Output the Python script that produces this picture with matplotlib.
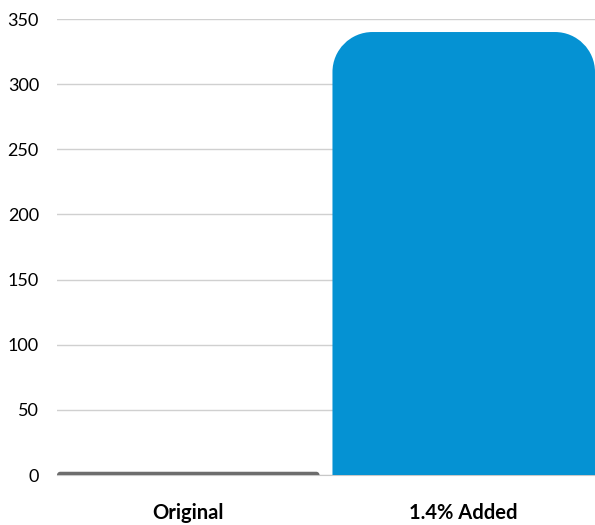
import numpy as np
import matplotlib.pyplot as plt
from matplotlib.path import Path
from matplotlib.patches import PathPatch

categories = ['Original', '1.4% Added']
values = [2.5, 340]
colors = ['#6d6d6d', '#0592d3']
yticks = [0, 50, 100, 150, 200, 250, 300, 350]

plt.rcParams['font.family'] = ['Lato', 'DejaVu Sans']

fig = plt.figure(figsize=(5.95, 5.25), dpi=100)
ax = fig.add_axes([57 / 595, 50 / 525, 1 - 57 / 595, 456 / 525])

w = 0.953
x = np.arange(len(categories))
ax.set_xlim(-w / 2, len(categories) - 1 + w / 2)
ax.set_ylim(0, 350)
ax.set_yticks(yticks)
ax.set_xticks(x)
ax.set_xticklabels(categories, fontweight='bold', fontsize=14.5)
ax.tick_params(axis='y', length=0, labelsize=13, pad=13)
ax.tick_params(axis='x', length=0, pad=20)
ax.grid(axis='y', color='#d0d0d0', linewidth=1)
ax.set_axisbelow(True)
for s in ['top', 'right', 'left']:
    ax.spines[s].set_visible(False)
ax.spines['bottom'].set_color('#c8c8c8')

# pixels per data unit, so the corners come out round on screen
p0 = ax.transData.transform((0, 0))
p1 = ax.transData.transform((1, 1))
px_x = p1[0] - p0[0]
px_y = p1[1] - p0[1]
r_px = 40
k = 0.5523

for xi, v, c in zip(x, values, colors):
    r = min(r_px, v * px_y)
    rx = r / px_x
    ry = r / px_y
    x0, x1 = xi - w / 2, xi + w / 2
    y0, y1 = 0, v
    verts = [
        (x0, y0), (x0, y1 - ry),
        (x0, y1 - ry + k * ry), (x0 + rx - k * rx, y1), (x0 + rx, y1),
        (x1 - rx, y1),
        (x1 - rx + k * rx, y1), (x1, y1 - ry + k * ry), (x1, y1 - ry),
        (x1, y0), (x0, y0),
    ]
    codes = [Path.MOVETO, Path.LINETO,
             Path.CURVE4, Path.CURVE4, Path.CURVE4,
             Path.LINETO,
             Path.CURVE4, Path.CURVE4, Path.CURVE4,
             Path.LINETO, Path.CLOSEPOLY]
    ax.add_patch(PathPatch(Path(verts, codes), facecolor=c, edgecolor='none', zorder=3))

fig.savefig('out.png', dpi=100)
